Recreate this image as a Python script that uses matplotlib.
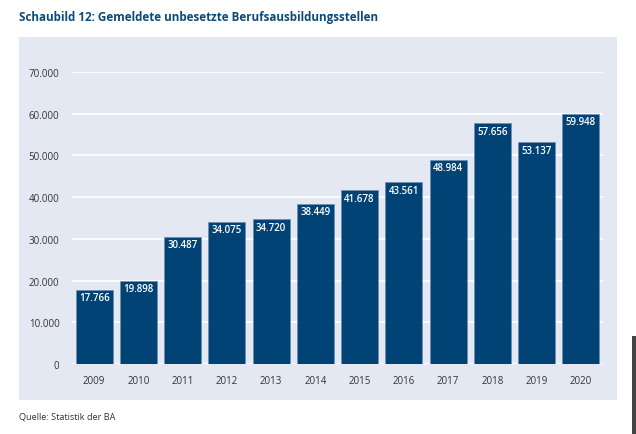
import matplotlib.pyplot as plt
from matplotlib.patches import Rectangle

years = ['2009', '2010', '2011', '2012', '2013', '2014', '2015', '2016', '2017', '2018', '2019', '2020']
values = [17766, 19898, 30487, 34075, 34720, 38449, 41678, 43561, 48984, 57656, 53137, 59948]
yticks = [0, 10000, 20000, 30000, 40000, 50000, 60000, 70000]


def de_fmt(v):
    return f'{v:,}'.replace(',', '.')


plt.rcParams['font.family'] = ['Open Sans', 'DejaVu Sans']

W, H = 636, 435
fig = plt.figure(figsize=(W / 100, H / 100), dpi=100)

# light panel behind the chart
fig.patches.append(Rectangle((19 / W, 1 - 401 / H), (617 - 19) / W, (401 - 38) / H,
                             transform=fig.transFigure, facecolor='#e4e8f2', edgecolor='none', zorder=-2))
# dark strip at the right edge
fig.patches.append(Rectangle((632 / W, 1 - 435 / H), 4 / W, (435 - 337) / H,
                             transform=fig.transFigure, facecolor='#444444', edgecolor='none', zorder=-2))

ax = fig.add_axes([72 / W, 1 - 365 / H, (603 - 72) / W, (365 - 73) / H])
ax.set_facecolor('none')

x = range(len(years))
bars = ax.bar(x, values, width=0.84, color='#004374', edgecolor='#6f8fb3', linewidth=0.5, zorder=3)
for xi, v in zip(x, values):
    ax.annotate(de_fmt(v), (xi, v), xytext=(0, -8), textcoords='offset pixels',
                ha='center', va='center', color='white', fontsize=7, fontweight='semibold', zorder=4)

ax.set_xlim(-0.5, len(years) - 0.5)
ax.set_ylim(0, 70000)
ax.set_yticks(yticks)
ax.set_yticklabels([de_fmt(v) for v in yticks])
ax.set_xticks(list(x))
ax.set_xticklabels(years)
ax.tick_params(length=0, labelsize=7, labelcolor='#333333')
ax.tick_params(axis='y', pad=9)
ax.tick_params(axis='x', pad=8)
ax.grid(axis='y', color='white', linewidth=1.2, zorder=1)
ax.set_axisbelow(True)
for s in ax.spines.values():
    s.set_visible(False)

fig.text(19 / W, 1 - 18 / H, 'Schaubild 12: Gemeldete unbesetzte Berufsausbildungsstellen',
         fontsize=8.4, fontweight='bold', color='#0b4a7b', va='center', ha='left')
fig.text(19 / W, 1 - 417 / H, 'Quelle: Statistik der BA', fontsize=6.6, color='#333333',
         va='center', ha='left')

fig.savefig('out.png', dpi=100)
